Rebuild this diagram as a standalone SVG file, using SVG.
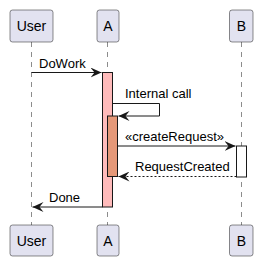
<svg xmlns="http://www.w3.org/2000/svg" width="263" height="267" viewBox="0 0 263 267">
<defs>
<style>
.p{fill:#E2E2F0;stroke:#181818;stroke-width:0.5}
.ll{stroke:#181818;stroke-width:0.5;stroke-dasharray:5,5;fill:none}
.t{font-family:"Liberation Sans",Arial,sans-serif;font-size:14px;fill:#000}
.m{font-family:"Liberation Sans",Arial,sans-serif;font-size:13px;fill:#000}
.ln{stroke:#181818;stroke-width:1;fill:none}
.ah{fill:#181818;stroke:#181818;stroke-width:1}
</style>
<marker id="arr" markerWidth="12" markerHeight="10" refX="11" refY="5" orient="auto" markerUnits="userSpaceOnUse">
<path d="M0,0 L11,5 L0,10 L4,5 Z" fill="#181818"/>
</marker>
</defs>
<g id="lifelines">
<line class="ll" x1="31.5" y1="42" x2="31.5" y2="225"/>
<line class="ll" x1="107.5" y1="42" x2="107.5" y2="225"/>
<line class="ll" x1="241.5" y1="42" x2="241.5" y2="225"/>
</g>
<g id="User">
<rect class="p" x="10" y="10" width="43" height="32" rx="2.5"/>
<text class="t" x="31.5" y="31" text-anchor="middle">User</text>
<rect class="p" x="10" y="225" width="43" height="31" rx="2.5"/>
<text class="t" x="31.5" y="245.5" text-anchor="middle">User</text>
</g>
<g id="A">
<rect class="p" x="97" y="10" width="22" height="32" rx="2.5"/>
<text class="t" x="108" y="31" text-anchor="middle">A</text>
<rect class="p" x="97" y="225" width="22" height="31" rx="2.5"/>
<text class="t" x="108" y="245.5" text-anchor="middle">A</text>
<rect x="102.5" y="72.5" width="10" height="134.5" fill="#FFBBBB" stroke="#181818" stroke-width="1"/>
<rect x="107.5" y="116" width="10" height="60.5" fill="#E59878" stroke="#181818" stroke-width="1"/>
</g>
<g id="B">
<rect class="p" x="229.5" y="10" width="23.5" height="32" rx="2.5"/>
<text class="t" x="241.5" y="31" text-anchor="middle">B</text>
<rect class="p" x="229.5" y="225" width="23.5" height="31" rx="2.5"/>
<text class="t" x="241.5" y="245.5" text-anchor="middle">B</text>
<rect x="236.5" y="146" width="10" height="31" fill="#FFFFFF" stroke="#181818" stroke-width="1"/>
</g>
<g id="connectors">
<line class="ln" x1="31.5" y1="72.5" x2="101.5" y2="72.5" marker-end="url(#arr)"/>
<text class="m" x="39" y="68">DoWork</text>
<polyline class="ln" points="112.5,103.5 159.5,103.5 159.5,116 118.5,116" marker-end="url(#arr)"/>
<text class="m" x="125" y="98">Internal call</text>
<line class="ln" x1="117.5" y1="146" x2="235.5" y2="146" marker-end="url(#arr)"/>
<text class="m" x="125" y="141">«createRequest»</text>
<line class="ln" x1="236.5" y1="176.5" x2="118.5" y2="176.5" stroke-dasharray="2,2" marker-end="url(#arr)"/>
<text class="m" x="135" y="171">RequestCreated</text>
<line class="ln" x1="102.5" y1="207" x2="32.5" y2="207" marker-end="url(#arr)"/>
<text class="m" x="49" y="202">Done</text>
</g>
</svg>
